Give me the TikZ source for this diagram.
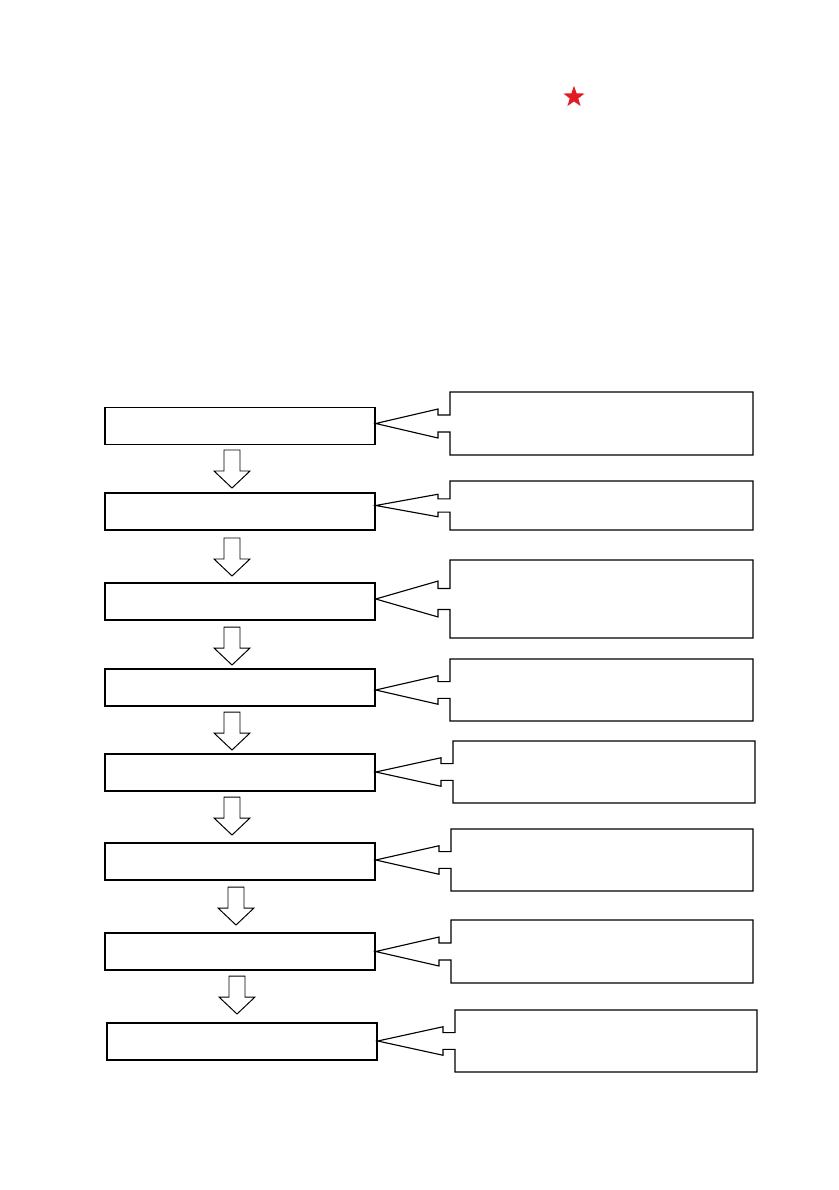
\documentclass[tikz,border=0pt]{standalone}
\usetikzlibrary{shapes.geometric}

\definecolor{starred}{RGB}{227,28,36}

\tikzset{
  stepbox/.style={draw, line width=1pt, minimum width=6.75cm, minimum height=0.925cm, inner sep=0pt},
  noteline/.style={draw, line width=0.8pt, line join=miter},
  flowline/.style={draw, line width=0.7pt, fill=white},
}

% callout: left, top, right, bottom, target box
\newcommand{\noteshape}[5]{%
  \draw[noteline] (#1,#2) -- (#3,#2) -- (#3,#4) -- (#1,#4)
    -- (#1,{(#2+#4)/2+0.135*(#4-#2)}) -- ({#1-12},{(#2+#4)/2+0.135*(#4-#2)})
    -- ({#1-12},{(#2+#4)/2+0.23*(#4-#2)}) -- (#5.east |- 0,{(#2+#4)/2})
    -- ({#1-12},{(#2+#4)/2-0.23*(#4-#2)}) -- ({#1-12},{(#2+#4)/2-0.135*(#4-#2)})
    -- (#1,{(#2+#4)/2-0.135*(#4-#2)}) -- cycle;}

% block arrow: centre x, top y
\newcommand{\flowarrow}[2]{%
  \draw[flowline] ({#1-8},#2) -- ({#1+8},#2) -- ({#1+8},{#2+21}) -- ({#1+18},{#2+21})
    -- (#1,{#2+38}) -- ({#1-18},{#2+21}) -- ({#1-8},{#2+21}) -- cycle;}

\begin{document}
\begin{tikzpicture}[x=0.025cm,y=-0.025cm]
\useasboundingbox (0,0) rectangle (838,1190);

\node[star, star points=5, star point ratio=2.5, fill=starred, minimum size=0.56cm, inner sep=0pt] (mark) at (574,97) {};

% steps
\node[stepbox] (s1) at (240,426) {};
\node[stepbox] (s2) at (240,511.5) {};
\node[stepbox] (s3) at (240,601.5) {};
\node[stepbox] (s4) at (240,687.5) {};
\node[stepbox] (s5) at (240,772.5) {};
\node[stepbox] (s6) at (240,861.5) {};
\node[stepbox] (s7) at (240,951.5) {};
\node[stepbox] (s8) at (242,1041.5) {};

% arrows between steps
\flowarrow{232}{450}
\flowarrow{232}{538}
\flowarrow{232}{627}
\flowarrow{232}{712}
\flowarrow{232}{797}
\flowarrow{236}{887}
\flowarrow{237}{976}

% notes
\noteshape{450}{392}{753}{455}{s1}
\noteshape{450}{481}{753}{530}{s2}
\noteshape{450}{560}{753}{638}{s3}
\noteshape{450}{659}{753}{721}{s4}
\noteshape{453}{741}{755}{803}{s5}
\noteshape{451}{829}{753}{891}{s6}
\noteshape{451}{920}{753}{983}{s7}
\noteshape{455}{1010}{757}{1072}{s8}
\end{tikzpicture}
\end{document}
